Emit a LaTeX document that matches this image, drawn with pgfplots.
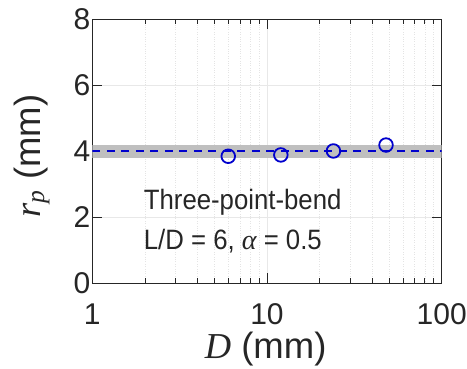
\documentclass[border=0pt]{standalone}
\usepackage{pgfplots}
\pgfplotsset{compat=1.18}
\usepackage{fontspec}
\setmainfont{Liberation Sans}
\newfontfamily\serif{Liberation Serif}
\newfontfamily\annfont[FakeStretch=0.92]{Liberation Sans}
\definecolor{txt}{RGB}{38,38,38}
\definecolor{band}{RGB}{191,191,191}
\definecolor{mblue}{RGB}{0,0,205}
\definecolor{gmaj}{RGB}{232,232,232}
\definecolor{gmin}{RGB}{228,228,228}
\begin{document}
\begin{tikzpicture}
\begin{axis}[
  scale only axis,
  width=349.4bp, height=264bp,
  xmode=log, xmin=1, xmax=100, ymin=0, ymax=8,
  xtick={1,10,100}, xticklabels={1,10,100},
  ytick={0,2,4,6,8},
  /pgf/number format/assume math mode=true,
  tick align=inside,
  major tick length=10bp, minor tick length=5bp,
  axis line style={txt, line width=0.9bp},
  every tick/.style={txt, line width=0.7bp},
  xmajorgrids, ymajorgrids, xminorgrids,
  major grid style={gmaj, line width=0.6bp},
  minor grid style={gmin, dotted, line width=0.5bp},
  tick label style={font=\fontsize{30bp}{36bp}\selectfont, text=txt},
  xticklabel style={anchor=base, yshift=-40.7bp},
  yticklabel style={anchor=east, xshift=1.5bp},
  every axis x label/.style={at={(axis description cs:0.496,-0.284)}, anchor=base, font=\fontsize{36.5bp}{42bp}\selectfont, text=txt},
  every axis y label/.style={at={(axis description cs:-0.1488,0.482)}, anchor=base, rotate=90, font=\fontsize{36.5bp}{42bp}\selectfont, text=txt},
  xlabel={{\serif\itshape D} (mm)},
  ylabel={{\serif\itshape r\textsubscript{p}} (mm)},
]
\addplot[draw=none, fill=band] coordinates {(1,3.79) (100,3.79) (100,4.19) (1,4.19)} -- cycle;
\addplot[mblue, line width=1.8bp, dash pattern=on 8bp off 6.5bp] coordinates {(1,4) (100,4)};
\addplot[only marks, mark=o, mblue, mark size=6.8bp, mark options={line width=1.8bp}] coordinates {(6,3.85) (12,3.89) (24,4.01) (48,4.19)};
\node[anchor=base west, inner sep=0, text=txt, font=\annfont\fontsize{28bp}{34bp}\selectfont] at (rel axis cs:0.147,0.2777) {Three-point-bend};
\node[anchor=base west, inner sep=0, text=txt, font=\annfont\fontsize{28bp}{34bp}\selectfont] at (rel axis cs:0.147,0.1288) {L/D = 6, {\serif\itshape α} = 0.5};
\end{axis}
\pgfresetboundingbox
\useasboundingbox (-92.3bp,-85.7bp) rectangle (374.7bp,283.3bp);
\end{tikzpicture}
\end{document}
